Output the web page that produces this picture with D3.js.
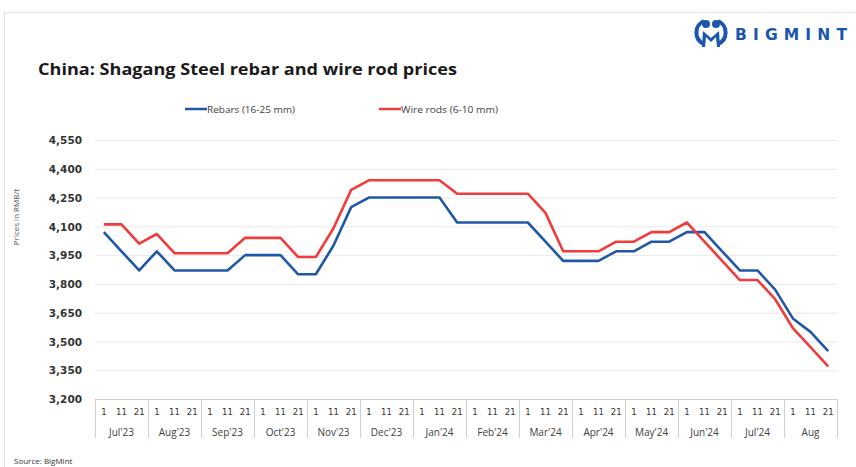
<!DOCTYPE html>
<html><head><meta charset="utf-8">
<script src="https://cdn.jsdelivr.net/npm/d3@7/dist/d3.min.js"></script>
<style>body{margin:0;background:#fff}svg{display:block}</style>
</head><body>
<svg id="c" width="856" height="467"></svg>
<script>
const months = ["Jul'23","Aug'23","Sep'23","Oct'23","Nov'23","Dec'23","Jan'24","Feb'24","Mar'24","Apr'24","May'24","Jun'24","Jul'24","Aug"];
const days = ["1","11","21"];
const rebars = [4070,3970,3870, 3970,3870,3870, 3870,3870,3950, 3950,3950,3850, 3850,4000,4200, 4250,4250,4250, 4250,4250,4120, 4120,4120,4120, 4120,4020,3920, 3920,3920,3970, 3970,4020,4020, 4070,4070,3970, 3870,3870,3770, 3620,3550,3450];
const wirerods = [4110,4110,4010, 4060,3960,3960, 3960,3960,4040, 4040,4040,3940, 3940,4090,4290, 4340,4340,4340, 4340,4340,4270, 4270,4270,4270, 4270,4170,3970, 3970,3970,4020, 4020,4070,4070, 4120,4020,3920, 3820,3820,3720, 3570,3470,3370];
const yTicks = [3200,3350,3500,3650,3800,3950,4100,4250,4400,4550];
const seriesNames = ["Rebars (16-25 mm)","Wire rods (6-10 mm)"];

const svg = d3.select("#c");
const L = 95, R = 837, T = 140, B = 399;
const cats = [];
months.forEach((m,mi)=>days.forEach((d,di)=>cats.push({m:mi,d:d,i:mi*3+di})));
const x = d3.scaleBand().domain(cats.map(c=>c.i)).range([L,R]).padding(0);
const xm = d3.scaleBand().domain(months).range([L,R]).padding(0);
const y = d3.scaleLinear().domain([3200,4550]).range([B,T]);

// frame
svg.append("rect").attr("x",4.5).attr("y",12.5).attr("width",900).attr("height",500)
  .attr("fill","none").attr("stroke","#e4e4e4");

// logo
const lg = svg.append("g").attr("fill","#1a55b0");
lg.append("path").attr("d","M704,21 A12.5,12.5 0 0 0 704,44").attr("fill","none").attr("stroke","#1a55b0").attr("stroke-width",4);
lg.append("path").attr("d","M718,21 A12.5,12.5 0 0 1 718,44").attr("fill","none").attr("stroke","#1a55b0").attr("stroke-width",4);
lg.append("circle").attr("cx",706).attr("cy",24).attr("r",4);
lg.append("circle").attr("cx",716).attr("cy",24).attr("r",4);
lg.append("path").attr("d","M702,47 L703,31 L711,38 L719,31 L720,47 L717,47 L716,37 L711,42 L706,37 L705,47 Z");
svg.append("text").attr("x",735).attr("y",39.5).attr("font-family","'DejaVu Sans'").attr("font-weight","bold")
  .attr("font-size",15.5).attr("fill","#1a55b0").attr("textLength",112).attr("lengthAdjust","spacing").text("BIGMINT");

// title
svg.append("text").attr("x",38).attr("y",74.5).attr("font-family","'Open Sans'").attr("font-weight","bold")
  .attr("font-size",16).attr("fill","#1a1a1a").attr("textLength",419).attr("lengthAdjust","spacingAndGlyphs")
  .text("China: Shagang Steel rebar and wire rod prices");

// legend
const legend = [{n:seriesNames[0],c:"#1f58a8",x1:185,x2:207,tl:88},{n:seriesNames[1],c:"#f03c3c",x1:379,x2:401,tl:97}];
legend.forEach(l=>{
  svg.append("line").attr("x1",l.x1).attr("x2",l.x2).attr("y1",109).attr("y2",109).attr("stroke",l.c).attr("stroke-width",2.5);
  svg.append("text").attr("x",l.x2).attr("y",112.5).attr("font-family","'Open Sans'").attr("font-size",9.5)
    .attr("fill","#404040").attr("textLength",l.tl).attr("lengthAdjust","spacingAndGlyphs").text(l.n);
});

// gridlines
svg.append("g").selectAll("line").data(yTicks.filter(t=>t>3200)).join("line")
  .attr("x1",L).attr("x2",R).attr("y1",d=>y(d)+0.5).attr("y2",d=>y(d)+0.5).attr("stroke","#e9e9e9").attr("stroke-width",1);

// y axis labels
const yAxis = d3.axisLeft(y).tickValues(yTicks).tickSize(0).tickPadding(0).tickFormat(d3.format(","));
const ya = svg.append("g").attr("transform",`translate(${82},0)`).call(yAxis);
ya.select(".domain").remove();
ya.selectAll("text").attr("font-family","'DejaVu Sans'").attr("font-weight","bold").attr("font-size",10.5).attr("fill","#333").attr("dy","0.35em");

// y title
svg.append("text").attr("transform","translate(18.5,217) rotate(-90)").attr("text-anchor","middle")
  .attr("font-family","'Open Sans'").attr("font-size",8).attr("fill","#555").text("Prices in RMB/t");

// x axis: baseline + separators
svg.append("line").attr("x1",L).attr("x2",R).attr("y1",B+0.5).attr("y2",B+0.5).attr("stroke","#cfcfcf");
const seps = months.map(m=>xm(m)).concat([R]);
svg.append("g").selectAll("line").data(seps).join("line")
  .attr("x1",d=>Math.round(d)+0.5).attr("x2",d=>Math.round(d)+0.5).attr("y1",B).attr("y2",438)
  .attr("stroke","#cfcfcf");
const xAxis = d3.axisBottom(x).tickSize(0).tickPadding(0).tickFormat(i=>cats[i].d);
const xa = svg.append("g").attr("transform",`translate(0,${415})`).call(xAxis);
xa.select(".domain").remove();
xa.selectAll("text").attr("font-family","'DejaVu Sans'").attr("font-size",8.5).attr("fill","#333").attr("dy",0);
const xmAxis = d3.axisBottom(xm).tickSize(0).tickPadding(0);
const xma = svg.append("g").attr("transform",`translate(0,${435.5})`).call(xmAxis);
xma.select(".domain").remove();
xma.selectAll("text").attr("font-family","'Open Sans'").attr("font-size",10).attr("fill","#404040").attr("dy",0);

// lines
const line = d3.line().x((d,i)=>x(i)+x.bandwidth()/2).y(d=>y(d));
svg.append("path").datum(rebars).attr("d",line).attr("fill","none").attr("stroke","#1f58a8").attr("stroke-width",2.6).attr("stroke-linejoin","round");
svg.append("path").datum(wirerods).attr("d",line).attr("fill","none").attr("stroke","#f03c3c").attr("stroke-width",2.6).attr("stroke-linejoin","round");

// source
svg.append("text").attr("x",14).attr("y",463.5).attr("font-family","'Open Sans'").attr("font-size",8)
  .attr("fill","#333").text("Source: BigMint");
</script>
</body></html>
